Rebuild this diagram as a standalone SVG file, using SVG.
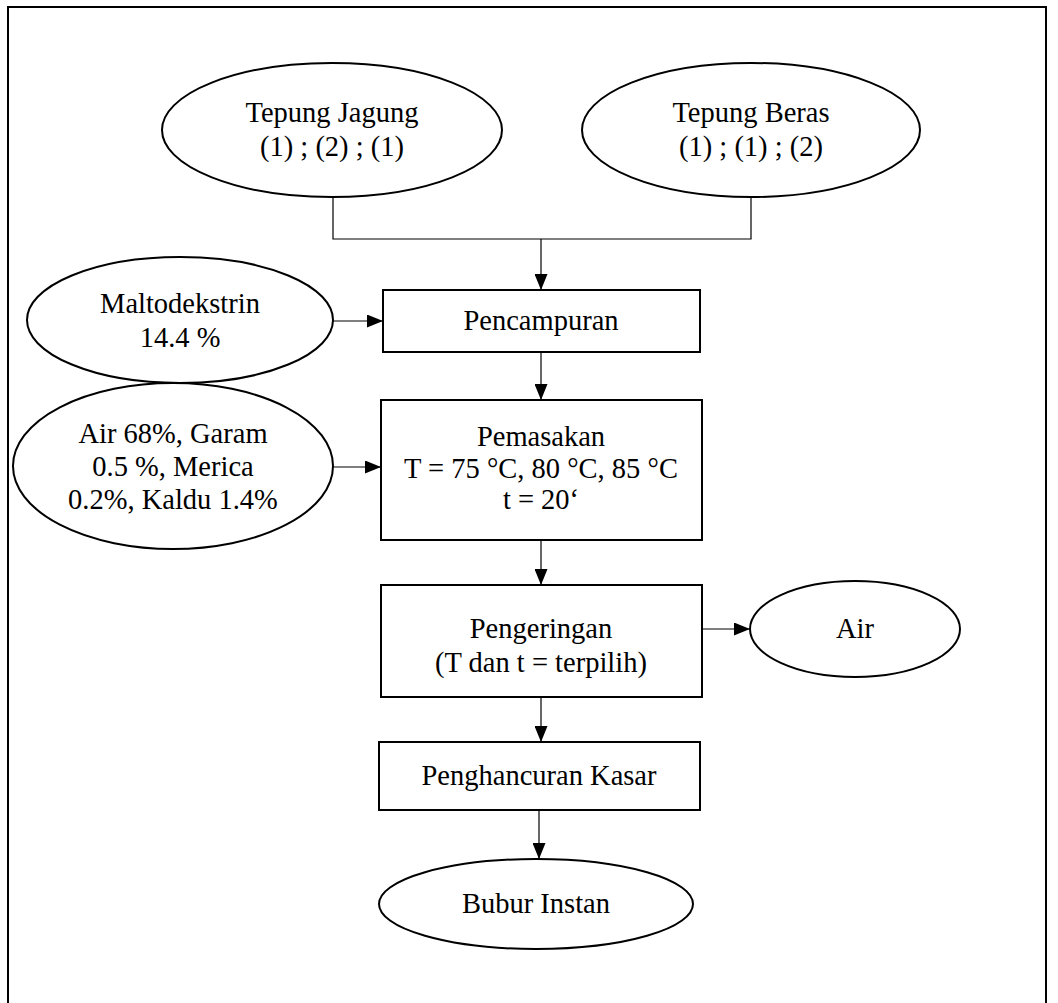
<svg xmlns="http://www.w3.org/2000/svg" width="1058" height="1003" viewBox="0 0 1058 1003">
<defs>
<marker id="ah" viewBox="0 0 16 13" refX="16" refY="6.5" markerWidth="16" markerHeight="13" markerUnits="userSpaceOnUse" orient="auto">
<path d="M0,0 L16,6.5 L0,13 Z" fill="#000"/>
</marker>
<style>
.n{fill:#fff;stroke:#000;stroke-width:2}
.t{font-family:"Liberation Serif","Times New Roman",serif;font-size:28.5px;fill:#000;text-anchor:middle}
.c{fill:none;stroke:#000;stroke-width:1.2}
.a{marker-end:url(#ah)}
</style>
</defs>
<rect width="1058" height="1003" fill="#fff"/>
<rect x="8" y="7" width="1038" height="1010" fill="none" stroke="#000" stroke-width="2"/>
<g id="connectors">
<polyline class="c" points="333,197 333,239 751,239 751,197"/>
<line class="c a" x1="541" y1="239" x2="541" y2="290"/>
<line class="c a" x1="333" y1="321" x2="383" y2="321"/>
<line class="c a" x1="541" y1="352" x2="541" y2="400"/>
<line class="c a" x1="333" y1="467" x2="381" y2="467"/>
<line class="c a" x1="541" y1="540" x2="541" y2="585"/>
<line class="c a" x1="702" y1="629" x2="750" y2="629"/>
<line class="c a" x1="541" y1="697" x2="541" y2="742"/>
<line class="c a" x1="539" y1="810" x2="539" y2="859"/>
</g>
<g id="tepung-jagung">
<ellipse class="n" cx="332" cy="130" rx="170" ry="67"/>
<text class="t" x="332" y="122">Tepung Jagung</text>
<text class="t" x="332" y="156">(1) ; (2) ; (1)</text>
</g>
<g id="tepung-beras">
<ellipse class="n" cx="751" cy="130" rx="169" ry="67"/>
<text class="t" x="751" y="122">Tepung Beras</text>
<text class="t" x="751" y="156">(1) ; (1) ; (2)</text>
</g>
<g id="pencampuran">
<rect class="n" x="383" y="290" width="317" height="62"/>
<text class="t" x="541" y="330">Pencampuran</text>
</g>
<g id="maltodekstrin">
<ellipse class="n" cx="180" cy="320" rx="153" ry="63"/>
<text class="t" x="180" y="313">Maltodekstrin</text>
<text class="t" x="180" y="347">14.4 %</text>
</g>
<g id="bahan">
<ellipse class="n" cx="173" cy="466" rx="160" ry="83"/>
<text class="t" x="173" y="443">Air 68%, Garam</text>
<text class="t" x="173" y="476">0.5 %, Merica</text>
<text class="t" x="173" y="509">0.2%, Kaldu 1.4%</text>
</g>
<g id="pemasakan">
<rect class="n" x="381" y="400" width="321" height="140"/>
<text class="t" x="541" y="446">Pemasakan</text>
<text class="t" x="541" y="478">T = 75 °C, 80 °C, 85 °C</text>
<text class="t" x="541" y="509">t = 20‘</text>
</g>
<g id="pengeringan">
<rect class="n" x="381" y="585" width="321" height="112"/>
<text class="t" x="541" y="638">Pengeringan</text>
<text class="t" x="541" y="672">(T dan t = terpilih)</text>
</g>
<g id="air">
<ellipse class="n" cx="855" cy="629" rx="105" ry="48"/>
<text class="t" x="855" y="638">Air</text>
</g>
<g id="penghancuran">
<rect class="n" x="379" y="742" width="321" height="68"/>
<text class="t" x="539" y="785">Penghancuran Kasar</text>
</g>
<g id="bubur">
<ellipse class="n" cx="536" cy="904" rx="157" ry="45"/>
<text class="t" x="536" y="913">Bubur Instan</text>
</g>
</svg>
